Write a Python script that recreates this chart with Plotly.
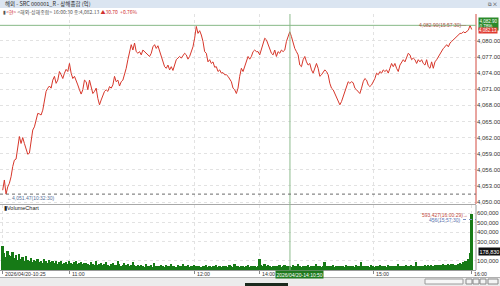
import plotly.graph_objects as go

# ---------------- data ----------------
# Shanghai Composite, 2026/04/20 intraday (Korean time 10:25 - 16:00), evenly sampled
price = [
    4052.2, 4054.1, 4051.47, 4052.8,
    4053.5, 4054.7, 4056.6, 4057.8, 4058.0, 4060.3, 4062.2, 4060.9, 4062.0, 4060.9,
    4059.7, 4058.9, 4059.1, 4060.9, 4063.4, 4064.0, 4065.3, 4066.5, 4066.4, 4066.2,
    4067.1, 4069.3, 4070.6, 4071.2, 4071.6, 4071.2, 4072.7, 4073.4, 4072.1, 4072.7,
    4074.3, 4073.7, 4073.0, 4074.0, 4074.7, 4074.3, 4075.8, 4074.0, 4073.0, 4073.4,
    4072.4, 4071.8, 4070.9, 4070.1, 4070.9, 4072.7, 4072.4, 4070.9, 4072.7, 4071.5,
    4070.2, 4070.6, 4071.2, 4069.3, 4068.1, 4069.0, 4069.9, 4070.6, 4070.9, 4070.6,
    4071.5, 4071.2, 4071.8, 4073.4, 4072.4, 4072.7, 4071.6, 4072.4, 4072.7, 4073.7,
    4074.9, 4076.5, 4078.0, 4079.3, 4078.3, 4079.6, 4078.0, 4077.7, 4078.0, 4077.4,
    4078.3, 4078.0, 4077.7, 4077.4, 4077.1, 4077.7, 4078.9, 4079.3, 4078.6, 4079.1,
    4078.0, 4077.1, 4076.1, 4075.2, 4074.9, 4075.5, 4074.6, 4075.2, 4074.5, 4075.8,
    4076.5, 4076.8, 4077.1, 4076.8, 4077.4, 4077.7, 4077.4, 4076.6, 4077.1, 4078.0,
    4078.9, 4080.5, 4082.7, 4081.4, 4081.9, 4081.1, 4079.9, 4078.0, 4077.7, 4076.1,
    4076.5, 4075.8, 4076.1, 4075.1, 4075.2, 4074.3, 4074.6, 4074.0, 4074.1, 4073.7,
    4073.7, 4073.4, 4073.0, 4072.4, 4071.2, 4070.9, 4070.2, 4071.2, 4073.4,
    # afternoon part of the picture
    4074.9, 4074.3, 4075.2, 4076.5, 4077.1, 4076.6, 4077.1, 4078.0, 4078.3, 4078.0,
    4078.0, 4077.4, 4078.3, 4079.3, 4080.5, 4080.2, 4079.3, 4078.3, 4077.7, 4077.4,
    4078.3, 4077.1, 4078.0, 4077.7, 4078.3, 4078.0, 4078.3, 4079.9, 4080.8, 4081.7,
    4080.8, 4079.6, 4078.6, 4078.0, 4077.4, 4075.5, 4075.2, 4076.5, 4077.1, 4076.1,
    4075.5, 4075.8, 4074.6, 4074.0, 4074.9, 4075.8, 4074.9, 4073.4, 4073.7, 4074.3,
    4074.6, 4074.3, 4073.7, 4072.1, 4071.2, 4070.9, 4070.2, 4069.3, 4068.7, 4068.1,
    4068.7, 4069.6, 4070.2, 4071.5, 4072.4, 4072.1, 4072.4, 4072.2, 4071.2, 4070.9,
    4070.6, 4070.2, 4071.2, 4072.4, 4073.0, 4072.7, 4071.8, 4071.5, 4071.8, 4072.4,
    4073.0, 4074.0, 4073.7, 4074.3, 4074.0, 4074.6, 4074.3, 4074.6, 4074.0, 4074.9,
    4075.8, 4075.2, 4075.8, 4074.9, 4074.3, 4075.5, 4076.1, 4076.5, 4076.1, 4076.8,
    4077.7, 4077.4, 4076.5, 4076.8, 4076.5, 4075.8, 4076.5, 4076.1, 4076.5, 4075.8,
    4075.5, 4076.5, 4075.2, 4074.9, 4076.1, 4074.9, 4076.1, 4076.5, 4077.1, 4077.7,
    4078.3, 4078.6, 4078.9, 4079.3, 4078.9, 4079.6, 4079.9, 4080.2, 4080.5, 4080.8,
    4081.1, 4081.4, 4081.4, 4081.7, 4081.5, 4081.7, 4082.0, 4082.90, 4082.13,
]

# volume per sample, in thousands of shares
volume_thousands = [
    250, 180, 140, 200, 160, 150,
    190, 130, 160, 110, 170, 120, 140, 100, 150, 110,
    95, 130, 80, 110, 90, 120, 85, 100, 75, 115, 90, 70, 105, 80, 95,
    70, 90, 65, 80, 100, 60, 75, 85, 65, 90, 70, 60, 80, 95, 65, 70, 85, 60, 75, 70,
    65, 55, 80, 60, 50, 90, 55, 60, 70, 50, 65, 85, 55, 45, 60, 75, 50, 55, 95, 60,
    45, 55, 70, 50, 60, 45, 55, 80, 50, 45,
    50, 40, 55, 45, 35, 60, 40, 45, 50, 35, 70, 40, 45, 38, 50, 42, 35, 55, 40, 45,
    60, 38, 42, 35, 50, 45, 40, 65, 38, 42, 50, 35, 45, 40, 55, 38, 42,
    40, 35, 45, 38, 50, 35, 42, 30, 45, 38, 55, 35, 40, 33, 45, 38, 42, 35, 48, 40,
    35, 60, 38, 42, 35, 40, 45, 33, 38, 50, 35, 40, 38, 45, 35, 40,
    115, 55, 45, 60, 40, 50, 45,
    35, 40, 45, 38, 42, 50, 36, 40, 55, 38, 45, 40, 35, 48, 42, 38, 60, 40, 36, 45,
    42, 38, 50, 35, 40, 44, 38, 65, 40, 42, 36, 45, 88, 40, 38, 45, 42, 50, 36, 40,
    44, 38, 46, 40, 35, 50, 42, 38, 45, 40, 36, 55, 42, 38, 85, 40, 45, 38, 42, 36, 48,
    40, 36, 45, 42, 50, 38, 44, 40, 36, 55, 42, 38, 46, 40, 44, 60, 38, 42, 45, 40,
    48, 42, 38, 50, 44, 40, 80, 42, 38, 46, 44, 50, 42, 48, 45, 52, 46, 55, 50, 48,
    56, 52, 60, 55, 58, 62, 58, 65, 60,
    50, 55, 60, 70, 65, 80, 90, 100, 120,
    178.83, 593.427,
]

tick_labels = ["2026/04/20-10:25", "11:00", "12:00", "14:00", "15:00", "16:00"]
tick_pos = [0.0, 0.1414, 0.4098, 0.5466, 0.7900, 1.0]   # share of the session on the x axis

max_price, max_time = 4082.90, "15:57:30"
min_price, min_time = 4051.47, "10:32:30"
last_price = 4082.13
max_vol, max_vol_time = 593427, "16:00:29"
last_vol = 178830
cursor_pos, cursor_label = 0.6125, "2026/04/20-14:10:50"

# ---------------- figure ----------------
W, H = 500, 286
def py(y):  # pixel -> paper (vertical)
    return 1 - y / H
def pxx(x):
    return x / W

n_p = len(price)
n_v = len(volume_thousands)
xp = [i / (n_p - 1) for i in range(n_p)]
xv = [i / (n_v - 1) for i in range(n_v)]
vol = [v * 1000 for v in volume_thousands]

RED = "#d7372b"
GREEN_BAR = "#167a16"
GRID = "#e2e2e2"
NUMFONT = "Liberation Sans"
KFONT = "Noto Sans CJK KR"

fig = go.Figure()
fig.add_trace(go.Scatter(x=xp, y=price, mode="lines", line=dict(color=RED, width=1),
                         xaxis="x", yaxis="y", hoverinfo="skip", showlegend=False))
fig.add_trace(go.Bar(x=xv, y=vol, marker=dict(color=GREEN_BAR, line=dict(width=0)),
                     width=1 / (n_v - 1), xaxis="x2", yaxis="y2", hoverinfo="skip", showlegend=False))

x_range = [-0.00576, 1.00917]
dom_x = [0, 476 / W]
fig.update_layout(
    width=W, height=H, margin=dict(l=0, r=0, t=0, b=0),
    paper_bgcolor="white", plot_bgcolor="white", bargap=0,
    xaxis=dict(domain=dom_x, range=x_range, anchor="y", tickvals=tick_pos[1:5],
               showticklabels=False, showgrid=True, gridcolor=GRID, griddash="dot",
               zeroline=False, showline=False, ticks=""),
    xaxis2=dict(domain=dom_x, range=x_range, anchor="y2", matches="x", tickvals=tick_pos,
                showticklabels=False, showgrid=True, gridcolor=GRID, griddash="dot",
                zeroline=False, showline=False, ticks="outside", ticklen=3, tickcolor="#888"),
    yaxis=dict(domain=[py(204), py(14)], range=[4049.63, 4085.01], side="right",
               tickvals=[4050 + 3 * k for k in range(11)], tickformat=",.2f",
               tickfont=dict(size=6, color="#333", family=NUMFONT),
               showgrid=True, gridcolor=GRID, griddash="dot", zeroline=False, ticks=""),
    # the 200,000 label sits under the last-volume box in the reference
    yaxis2=dict(domain=[py(270), py(205)], range=[0, 687800], side="right",
                tickvals=[100000, 300000, 400000, 500000, 600000], tickformat=",d",
                tickfont=dict(size=6, color="#333", family=NUMFONT),
                showgrid=True, gridcolor=GRID, griddash="dot", zeroline=False, ticks=""),
)

shapes = []
def rect(x0, y0, x1, y1, fill, line=None):
    shapes.append(dict(type="rect", xref="paper", yref="paper", x0=pxx(x0), x1=pxx(x1),
                       y0=py(y1), y1=py(y0), fillcolor=fill,
                       line=dict(width=0 if line is None else 1, color=line or fill), layer="below"))
def hline(x0, x1, y, color, dash="solid", width=1):
    shapes.append(dict(type="line", xref="paper", yref="paper", x0=pxx(x0), x1=pxx(x1),
                       y0=py(y), y1=py(y), line=dict(color=color, width=width, dash=dash)))
def vline(x, y0, y1, color, width=1):
    shapes.append(dict(type="line", xref="paper", yref="paper", x0=pxx(x), x1=pxx(x),
                       y0=py(y0), y1=py(y1), line=dict(color=color, width=width)))

rect(0, 0, 500, 8, "#dbe5f1")
hline(0, 476, 204.5, "#a8a8a8")
hline(0, 476, 270.5, "#9a9a9a")
rect(0, 278, 500, 286, "#ececec")
hline(0, 500, 277.5, "#b0b0b0")
rect(425, 279, 463, 284, "#f7f7f7", "#9a9a9a")
for bx in (466, 473, 480):
    rect(bx, 279, bx + 6, 284, "#f4f4f4", "#8a8a8a")
rect(488, 279, 498, 284, "#f4f4f4", "#8a8a8a")
rect(245, 283, 288, 286, "#1b2a1e")
vline(476, 14, 204, "#d24a40")
vline(476, 205, 270, "#9a9a9a")
# crosshair (x of the cursor time)
shapes.append(dict(type="line", xref="x", yref="paper", x0=cursor_pos, x1=cursor_pos,
                   y0=py(270), y1=py(14), line=dict(color="#8dbb8d", width=1)))
# max price line and min price dotted line (data coordinates)
shapes.append(dict(type="line", xref="paper", yref="y", x0=0, x1=pxx(476), y0=max_price, y1=max_price,
                   line=dict(color="#86b886", width=1)))
shapes.append(dict(type="line", xref="paper", yref="y", x0=0, x1=pxx(476), y0=min_price, y1=min_price,
                   line=dict(color="#6a6a6a", width=1, dash="dot")))
hline(463, 476, 219.5, "#7a8fc0", dash="dot")
fig.update_layout(shapes=shapes)

ann = []
def text(x, y, t, size=5.5, color="#333", xanchor="left", family=KFONT, **kw):
    ann.append(dict(xref="paper", yref="paper", x=pxx(x), y=py(y), text=t, showarrow=False,
                    xanchor=xanchor, yanchor="middle", font=dict(size=size, color=color, family=family), **kw))

text(3, 4, "해외 - SRC 000001_R - 상해종합 (억)", size=5.5, color="#2a2a2a")
text(486, 4, "⧉ ✕", size=5, color="#444")
text(1, 11.5, "▮<span style='color:#d03030'>&lt;현&gt;</span> &lt;해외-상해종합&gt; 16:00:30 종:4,082.13 "
              "<span style='color:#d03030'>▲30.70  +0.76%</span>", size=5, color="#555")
text(468, 25, f"{max_price:,.2f}({max_time})—", size=5, color="#a5503f", xanchor="right", family=NUMFONT)
text(5, 197.5, f"←{min_price:,.2f}({min_time})", size=5, color="#56709a", family=NUMFONT)
text(2, 208, "▮VolumeChart", size=5.5, color="#222", family=NUMFONT)
text(470, 215, f"{max_vol:,d}({max_vol_time})→", size=5, color="#c24a40", xanchor="right", family=NUMFONT)
text(462, 219.5, f"456({max_time})", size=5, color="#5a74b0", xanchor="right", family=NUMFONT)
# right-side value boxes
text(477.5, 23.5, f"{max_price:,.2f}<br>0.78%", size=4.5, color="white", family=NUMFONT,
     bgcolor="#2b8a2b", borderpad=0.5, align="left")
text(477.5, 30.5, f"{last_price:,.2f}", size=4.5, color="white", family=NUMFONT,
     bgcolor="#e03a30", borderpad=0)
text(477.5, 251.5, f"{last_vol:,d}", size=5.5, color="white", family=NUMFONT, bgcolor="#111111", borderpad=0.5)
# x tick labels (left-aligned at their ticks, as in the reference)
for lab, pos in zip(tick_labels, tick_pos):
    ann.append(dict(xref="x2", yref="paper", x=pos, y=py(274), text=lab, showarrow=False,
                    xanchor="left", yanchor="middle", xshift=0.5,
                    font=dict(size=5.2, color="#333", family=NUMFONT)))
# cursor label, starting just after the 14:00 label
text(275, 274, cursor_label, size=5, color="white", family=NUMFONT, bgcolor="#1f7a1f", borderpad=0.5)
fig.update_layout(annotations=ann)

fig.write_html("out.html")
